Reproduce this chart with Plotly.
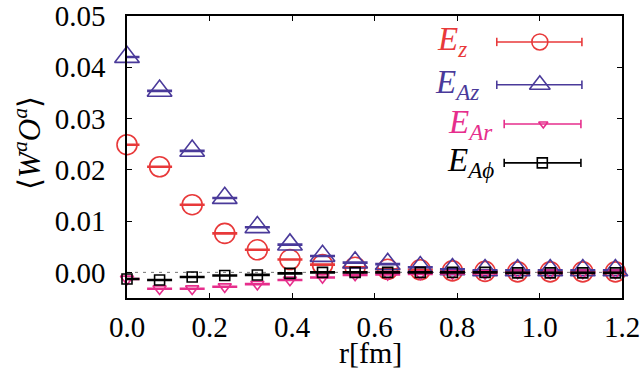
import plotly.graph_objects as go

# ---- data ----
r_fm = [0.0, 0.079, 0.158, 0.237, 0.316, 0.395, 0.474, 0.553, 0.632, 0.711,
        0.789, 0.868, 0.947, 1.026, 1.105, 1.184]
E_z = [0.0249, 0.0206, 0.0132, 0.0076, 0.0044, 0.0025, 0.0015, 0.0010, 0.0006, 0.0005,
       0.0003, 0.0002, 0.0001, 0.0001, 0.0001, 0.0001]
E_Az = [0.0420, 0.0354, 0.0237, 0.0145, 0.0088, 0.0054, 0.0032, 0.0019, 0.0016, 0.0010,
        0.0006, 0.0004, 0.0004, 0.0004, 0.0004, 0.0004]
E_Ar = [-0.0013, -0.0032, -0.0032, -0.0028, -0.0023, -0.0015, -0.0010, -0.0005, -0.0004, -0.0003,
        -0.0002, -0.0002, -0.0001, -0.0001, -0.0001, -0.0001]
E_Aphi = [-0.0013, -0.0015, -0.0009, -0.0006, -0.0005, -0.0002, 0.0000, 0.0000, 0.0000, 0.0000,
          0.0000, 0.0000, -0.0001, -0.0001, -0.0001, -0.0001]
err = [0.00004] * 16

x_ticks = [0.0, 0.2, 0.4, 0.6, 0.8, 1.0, 1.2]
x_ticklabels = ["0.0", "0.2", "0.4", "0.6", "0.8", "1.0", "1.2"]
y_ticks = [0.00, 0.01, 0.02, 0.03, 0.04, 0.05]
y_ticklabels = ["0.00", "0.01", "0.02", "0.03", "0.04", "0.05"]

series_names = ["<i>E</i><sub><i>z</i></sub>", "<i>E</i><sub><i>Az</i></sub>",
                "<i>E</i><sub><i>Ar</i></sub>", "<i>E</i><sub><i>Aϕ</i></sub>"]
series_vals = [E_z, E_Az, E_Ar, E_Aphi]

# ---- styles ----
colors = ["#e8393a", "#4a3a9a", "#e62e8c", "#000000"]
symbols = ["circle-open", "triangle-up-open", "triangle-down-open", "square-open"]
sizes = [20, 21.5, 11.5, 10]
leg_sizes = [16, 18, 8, 10]
FONT = "Liberation Serif"

# legend layout (fractions of the plot area)
leg_y = [0.908, 0.756, 0.617, 0.479]
leg_x0 = [0.747, 0.747, 0.762, 0.762]
leg_x1 = [0.919, 0.919, 0.917, 0.917]
leg_xm = [0.834, 0.834, 0.841, 0.839]
leg_tx = [0.623, 0.619, 0.644, 0.642]

fig = go.Figure()

for vals, c, s, sz in zip(series_vals, colors, symbols, sizes):
    fig.add_trace(go.Scatter(
        x=r_fm, y=vals, mode="markers",
        marker=dict(symbol=s, size=sz, color=c, line=dict(width=1.6, color=c)),
        error_y=dict(type="data", array=err, visible=True, color=c, thickness=2.2, width=12.5),
        cliponaxis=False, showlegend=False, hoverinfo="skip"))

# legend samples on an overlay axis
for i, c in enumerate(colors):
    fig.add_trace(go.Scatter(
        x=[leg_x0[i], leg_x1[i]], y=[leg_y[i], leg_y[i]], mode="lines+markers",
        line=dict(color=c, width=1.6),
        marker=dict(symbol="line-ns", size=6, line=dict(width=1.6, color=c), color=c),
        xaxis="x2", yaxis="y2", showlegend=False, hoverinfo="skip", cliponaxis=False))
    fig.add_trace(go.Scatter(
        x=[leg_xm[i]], y=[leg_y[i]], mode="markers",
        marker=dict(symbol=symbols[i], size=leg_sizes[i], color=c, line=dict(width=1.6, color=c)),
        xaxis="x2", yaxis="y2", showlegend=False, hoverinfo="skip", cliponaxis=False))
    fig.add_annotation(x=leg_tx[i], y=leg_y[i], xref="x2", yref="y2", text=series_names[i],
                       showarrow=False, xanchor="left", yanchor="middle",
                       font=dict(family=FONT, size=33, color=c))

# zero line
fig.add_shape(type="line", xref="paper", yref="y", x0=0, x1=1, y0=0, y1=0,
              line=dict(color="#777777", width=1, dash="3px,5px"), layer="below")

axis_common = dict(showline=True, linecolor="black", linewidth=1.5, mirror="ticks",
                   ticks="inside", ticklen=5, tickwidth=1.2, tickcolor="black",
                   showgrid=False, zeroline=False, automargin=False,
                   tickfont=dict(family=FONT, size=29, color="black"))

fig.update_layout(
    width=643, height=372,
    margin=dict(l=127, r=21, t=16, b=74),
    paper_bgcolor="white", plot_bgcolor="white",
    font=dict(family=FONT, color="black"),
    xaxis=dict(range=[0, 1.2], tickvals=x_ticks, ticktext=x_ticklabels,
               ticklabelstandoff=2, **axis_common),
    yaxis=dict(range=[-0.005, 0.05], tickvals=y_ticks, ticktext=y_ticklabels,
               ticklabelstandoff=14, **axis_common),
    xaxis2=dict(range=[0, 1], overlaying="x", visible=False, domain=[0, 1], automargin=False),
    yaxis2=dict(range=[0, 1], overlaying="y", visible=False, domain=[0, 1], automargin=False),
    showlegend=False,
)

fig.add_annotation(x=0.491, y=-0.195, xref="paper", yref="paper", text="r[fm]",
                   showarrow=False, xanchor="center", yanchor="middle",
                   font=dict(family=FONT, size=30, color="black"))
fig.add_annotation(x=-0.2, y=0.55, xref="paper", yref="paper",
                   text="⟨<i>W</i><sup><i>a</i></sup><i>O</i><sup><i>a</i></sup>⟩",
                   textangle=-90, showarrow=False, xanchor="center", yanchor="middle",
                   font=dict(family=FONT, size=31, color="black"))

fig.write_html("out.html")
